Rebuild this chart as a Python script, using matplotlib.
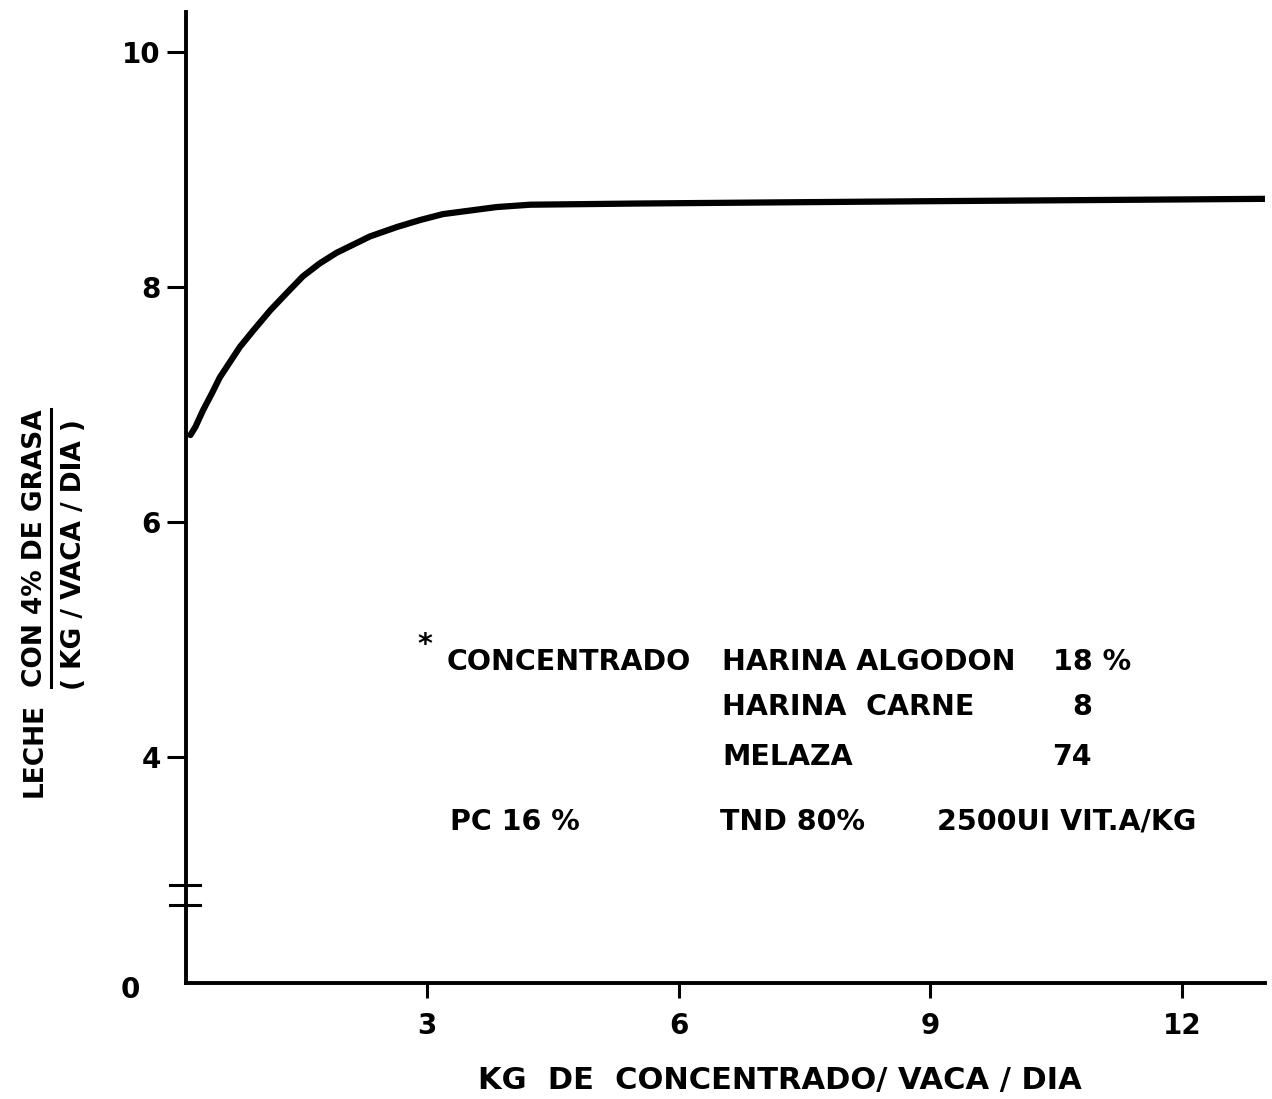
import matplotlib
matplotlib.use("Agg")
import matplotlib.pyplot as plt
from matplotlib.lines import Line2D

# concentrate fed (kg/cow/day) vs 4% fat-corrected milk (kg/cow/day)
concentrado = [0.18, 0.24, 0.33, 0.44, 0.53, 0.65, 0.77, 0.93, 1.13, 1.33,
               1.52, 1.72, 1.92, 2.12, 2.32, 2.64, 2.92, 3.19, 3.51, 3.83,
               4.23, 5.5, 7.2, 9.0, 11.0, 13.0]
leche = [6.74, 6.81, 6.95, 7.10, 7.23, 7.36, 7.49, 7.63, 7.80, 7.95,
         8.09, 8.20, 8.29, 8.36, 8.43, 8.51, 8.57, 8.62, 8.65, 8.68,
         8.70, 8.71, 8.72, 8.73, 8.74, 8.75]

x_ticks = [3, 6, 9, 12]
y_ticks = [4, 6, 8, 10]

plt.rcParams["font.family"] = ["DejaVu Sans"]
plt.rcParams["font.weight"] = "bold"

fig = plt.figure(figsize=(12.72, 10.99), dpi=100)
ax = fig.add_axes([0.1462, 0.1055, 0.8483, 0.8836])

ax.plot(concentrado, leche, color="black", lw=4.5,
        solid_capstyle="round", solid_joinstyle="round")

ax.set_xlim(0.127, 12.99)
ax.set_ylim(2.077, 10.34)
ax.spines["top"].set_visible(False)
ax.spines["right"].set_visible(False)
for side in ("left", "bottom"):
    ax.spines[side].set_linewidth(2.8)

ax.set_xticks(x_ticks)
ax.set_yticks(y_ticks)
ax.tick_params(axis="x", length=11, width=2.2, pad=10, labelsize=20)
ax.tick_params(axis="y", length=14, width=2.2, pad=4, labelsize=20)

# origin label and axis break marks
ax.text(-0.052, -0.007, "0", transform=ax.transAxes, ha="center", va="center",
        fontsize=20)
ytr = ax.get_yaxis_transform()
for yb in (2.91, 2.74):
    ax.plot([-0.015, 0.013], [yb, yb], color="black", lw=2.2,
            transform=ytr, clip_on=False)

# composition note
fs = 20.5
ax.text(2.89, 4.95, "*", fontsize=fs, ha="left", va="center")
ax.text(3.24, 4.81, "CONCENTRADO", fontsize=fs, ha="left", va="center")
ax.text(6.52, 4.81, "HARINA ALGODON", fontsize=fs, ha="left", va="center")
ax.text(10.46, 4.81, "18 %", fontsize=fs, ha="left", va="center")
ax.text(6.52, 4.43, "HARINA  CARNE", fontsize=fs, ha="left", va="center")
ax.text(10.81, 4.43, "8", fontsize=fs, ha="center", va="center")
ax.text(6.52, 4.0, "MELAZA", fontsize=fs, ha="left", va="center")
ax.text(10.69, 4.0, "74", fontsize=fs, ha="center", va="center")
ax.text(3.27, 3.45, "PC 16 %", fontsize=fs, ha="left", va="center")
ax.text(6.49, 3.45, "TND 80%", fontsize=fs, ha="left", va="center")
ax.text(9.08, 3.45, "2500UI VIT.A/KG", fontsize=fs, ha="left", va="center")

# axis titles
fig.text(0.613, 0.017, "KG  DE  CONCENTRADO/ VACA / DIA", fontsize=22,
         ha="center", va="center")
t1 = fig.text(0.0275, 0.275, "LECHE", fontsize=19,
              rotation=90, ha="center", va="bottom")
t2 = fig.text(0.0275, 0.375, "CON 4% DE GRASA", fontsize=19,
              rotation=90, ha="center", va="bottom")
fig.text(0.058, 0.495, "( KG / VACA / DIA )", fontsize=19,
         rotation=90, ha="center", va="center")

fig.canvas.draw()
bb = t2.get_window_extent().transformed(fig.transFigure.inverted())
fig.add_artist(Line2D([bb.x1 + 0.002, bb.x1 + 0.002], [bb.y0, bb.y1],
                      color="black", lw=2.2))

fig.savefig("out.png", dpi=100)
